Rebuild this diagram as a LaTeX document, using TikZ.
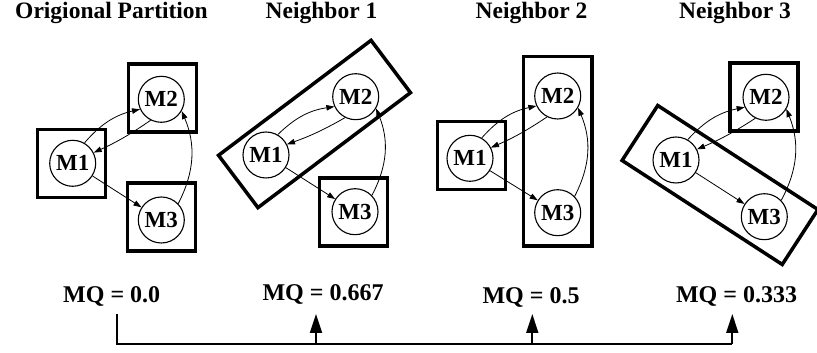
\documentclass[tikz,border=0pt]{standalone}
\usepackage{fontspec}
\setmainfont{Liberation Serif}
\usetikzlibrary{arrows.meta}
\newcommand\drawedges[1]{%
  \draw[edge] (#1m1.60) to[bend left=18] (#1m2.205);
  \draw[edge] (#1m2.243) to[bend left=5] (#1m1.27);
  \draw[edge] (#1m1) -- (#1m3);
  \draw[edge] (#1m3.44) to[bend right=25] (#1m2.-30);}
\begin{document}
\begin{tikzpicture}[x=1pt,y=1pt,
  mod/.style={circle,draw,fill=white,line width=1.1pt,minimum size=46pt,inner sep=0pt,font=\fontsize{23}{23}\selectfont\bfseries},
  sqbox/.style={draw,line width=3.5pt,minimum size=68pt,inner sep=0pt},
  longbox/.style={draw,line width=3.5pt,minimum width=191pt,minimum height=65.5pt,inner sep=0pt},
  tallbox/.style={draw,line width=3.5pt,minimum width=68.5pt,minimum height=189.5pt,inner sep=0pt},
  edge/.style={line width=0.8pt,-{Triangle[length=8pt,width=5.5pt]}},
  title/.style={font=\fontsize{23.5}{24}\selectfont\bfseries,anchor=base},
  mq/.style={font=\fontsize{24}{24}\selectfont\bfseries,anchor=base},
  flow/.style={line width=1.8pt},
  up/.style={flow,-{Triangle[length=19pt,width=12pt]}}]
\useasboundingbox (0,0) rectangle (817,353);
% titles
\node[title] (h1) at (111.5,334) {Origional Partition};
\node[title] (h2) at (321.5,334) {Neighbor 1};
\node[title] (h3) at (531.5,334) {Neighbor 2};
\node[title] (h4) at (735,334) {Neighbor 3};
% panel 1
\node[sqbox] (aB1) at (71.5,189.5) {};
\node[sqbox] (aB2) at (162.5,255) {};
\node[sqbox] (aB3) at (161.5,136) {};
\node[mod] (am1) at (72.7,189.7) {M1};
\node[mod] (am2) at (161.3,253.7) {M2};
\node[mod] (am3) at (161.3,133) {M3};
\drawedges{a}
% panel 2
\node[longbox,rotate=37] (bB12) at (314.5,229) {};
\node[sqbox] (bB3) at (353.7,141.2) {};
\node[mod] (bm1) at (266,198) {M1};
\node[mod] (bm2) at (355.7,256.3) {M2};
\node[mod] (bm3) at (355,141.3) {M3};
\drawedges{b}
% panel 3
\node[sqbox] (cB1) at (471.7,197.5) {};
\node[tallbox] (cB23) at (557.8,201.7) {};
\node[mod] (cm1) at (470,194.7) {M1};
\node[mod] (cm2) at (557.7,257) {M2};
\node[mod] (cm3) at (557.7,140.3) {M3};
\drawedges{c}
% panel 4
\node[longbox,rotate=-33] (dB13) at (720,168) {};
\node[sqbox] (dB2) at (763.8,256) {};
\node[mod] (dm1) at (676,193) {M1};
\node[mod] (dm2) at (766,255.7) {M2};
\node[mod] (dm3) at (764.3,136.3) {M3};
\drawedges{d}
% MQ values
\node[mq] (q1) at (111.7,50) {MQ = 0.0};
\node[mq] (q2) at (323,52) {MQ = 0.667};
\node[mq] (q3) at (531,49) {MQ = 0.5};
\node[mq] (q4) at (736.5,50) {MQ = 0.333};
% flow line
\coordinate (s) at (116.7,39);
\coordinate (b) at (116.7,8.7);
\coordinate (t1) at (316,39);
\coordinate (t2) at (532.3,39);
\coordinate (t3) at (732.3,39);
\draw[flow] (s) -- (b) -- (b -| t3);
\draw[up] (b -| t1) -- (t1);
\draw[up] (b -| t2) -- (t2);
\draw[up] (b -| t3) -- (t3);
\end{tikzpicture}
\end{document}
